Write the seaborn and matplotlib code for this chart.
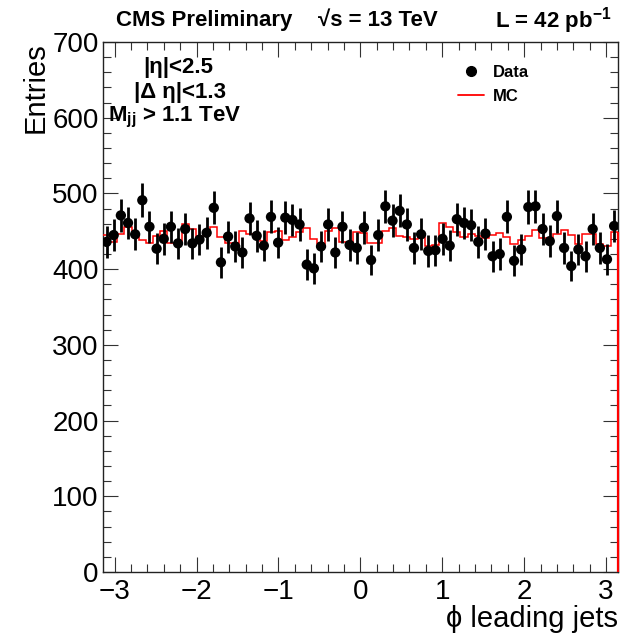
import numpy as np
import matplotlib
matplotlib.use('Agg')
import matplotlib.pyplot as plt
from matplotlib.lines import Line2D
from matplotlib.ticker import MultipleLocator
import seaborn as sns

# phi of the leading jets, 72 bins between -pi and pi
N_BINS = 72
PHI_MIN, PHI_MAX = -np.pi, np.pi

# data entries per bin
data_counts = [436, 445, 471, 461, 446, 491, 456, 427, 440, 456, 434, 453,
               434, 439, 448, 481, 409, 443, 430, 422, 467, 444, 431, 469,
               435, 468, 465, 459, 406, 401, 430, 459, 422, 456, 432, 428,
               455, 412, 445, 483, 464, 477, 459, 428, 446, 424, 425, 440,
               431, 466, 461, 458, 436, 447, 417, 420, 469, 411, 426, 482,
               483, 453, 437, 470, 428, 404, 426, 417, 453, 428, 413, 457]

# MC prediction per bin
mc_counts = [445, 436, 446, 456, 446, 438, 435, 444, 450, 434, 434, 459,
             453, 442, 445, 456, 443, 434, 434, 451, 447, 442, 437, 449,
             450, 438, 443, 449, 454, 440, 433, 450, 454, 436, 431, 449,
             448, 434, 434, 450, 454, 444, 442, 440, 442, 430, 432, 461,
             455, 449, 442, 447, 444, 441, 445, 448, 443, 433, 439, 444,
             452, 441, 441, 447, 452, 445, 433, 447, 447, 433, 431, 449]

x_ticks = [-3, -2, -1, 0, 1, 2, 3]
y_ticks = [0, 100, 200, 300, 400, 500, 600, 700]

sns.set_theme(style='ticks')
# fonts after set_theme, it resets font.family
plt.rcParams['font.family'] = ['Liberation Sans', 'DejaVu Sans']
plt.rcParams['mathtext.fontset'] = 'custom'
plt.rcParams['mathtext.rm'] = 'Liberation Sans'
plt.rcParams['mathtext.bf'] = 'Liberation Sans:bold'
plt.rcParams['mathtext.it'] = 'Liberation Sans:italic'
# plain black text like ROOT
for key in ['text.color', 'axes.labelcolor', 'xtick.color', 'ytick.color',
            'axes.edgecolor']:
    plt.rcParams[key] = 'black'

edges = np.linspace(PHI_MIN, PHI_MAX, N_BINS + 1)
centers = 0.5 * (edges[:-1] + edges[1:])
data = np.array(data_counts, dtype=float)
mc = np.array(mc_counts, dtype=float)

fig = plt.figure(figsize=(6.23, 6.38), dpi=100)
ax = fig.add_axes([0.1653, 0.1034, 0.8262, 0.8308])

# MC histogram outline (no left edge, the right one drops to zero)
ax.stairs(mc, edges, baseline=None, color='#ff0000', lw=1.1, zorder=3)
ax.vlines(edges[-1], 0, mc[-1], color='#ff0000', lw=1.6, zorder=3, clip_on=False)

# data points with poisson errors
ax.errorbar(centers, data, yerr=np.sqrt(data), fmt='none', ecolor='black',
            elinewidth=2.0, capsize=0, zorder=4)
sns.scatterplot(x=centers, y=data, color='black', s=55, edgecolor='none',
                zorder=5, ax=ax, legend=False)

ax.set_xlim(PHI_MIN, PHI_MAX)
ax.set_ylim(0, 700)
ax.set_xticks(x_ticks)
ax.set_yticks(y_ticks)
ax.xaxis.set_minor_locator(MultipleLocator(0.2))
ax.yaxis.set_minor_locator(MultipleLocator(20))
ax.tick_params(which='both', direction='in', top=True, right=True,
               color='#333333', width=0.8)
ax.tick_params(which='major', length=10.5, labelsize=20)
ax.tick_params(axis='y', which='major', pad=3)
ax.tick_params(axis='x', which='major', pad=5)
ax.tick_params(which='minor', length=5.5)
for sp in ax.spines.values():
    sp.set_linewidth(1.0)
    sp.set_color('#222222')

ax.set_xlabel('ϕ leading jets', fontsize=21, loc='right', labelpad=0)
ax.set_ylabel('Entries', fontsize=21, loc='top', labelpad=2)

# header
fig.text(0.186, 0.968, 'CMS Preliminary', fontsize=16, fontweight='bold',
         ha='left', va='center')
fig.text(0.510, 0.968, '√s = 13 TeV', fontsize=16, fontweight='bold',
         ha='left', va='center')
fig.text(0.982, 0.968, r'L = 42 pb$^{\mathbf{-1}}$', fontsize=16,
         fontweight='bold', ha='right', va='center')

# selection cuts
ax.text(0.146, 0.951, '|η|<2.5', transform=ax.transAxes, fontsize=16,
        fontweight='bold', ha='center', va='center')
ax.text(0.150, 0.904, '|Δ η|<1.3', transform=ax.transAxes, fontsize=16,
        fontweight='bold', ha='center', va='center')
ax.text(0.140, 0.857, r'$\mathbf{M_{jj}}$ > 1.1 TeV', transform=ax.transAxes,
        fontsize=16, fontweight='bold', ha='center', va='center')

handles = [Line2D([], [], marker='o', color='black', ls='none', markersize=7),
           Line2D([], [], color='#ff0000', lw=1.3)]
leg = ax.legend(handles, ['Data', 'MC'], loc='upper left',
                bbox_to_anchor=(0.66, 0.985), frameon=False, handlelength=1.6,
                handletextpad=0.5, labelspacing=0.55,
                prop={'size': 12, 'weight': 'bold'})

fig.savefig('out.png', dpi=100)
